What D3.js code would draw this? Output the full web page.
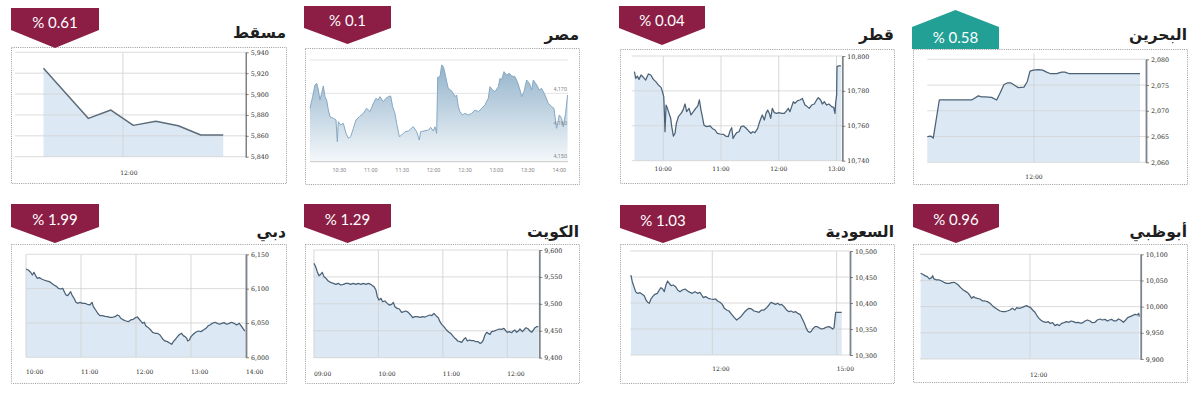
<!DOCTYPE html>
<html><head><meta charset="utf-8">
<script src="https://cdn.jsdelivr.net/npm/d3@7"></script>
<style>html,body{margin:0;padding:0;background:#fff;overflow:hidden} svg{display:block}</style>
</head><body>
<svg id="c" width="1200" height="399"></svg>
<script>
// ---------------- DATA ----------------
const marketNames = ["مسقط","مصر","قطر","البحرين","دبي","الكويت","السعودية","أبوظبي"];
const changeLabels = ["% 0.61","% 0.1","% 0.04","% 0.58","% 1.99","% 1.29","% 1.03","% 0.96"];
const changeDirection = ["down","down","down","up","down","down","down","down"];

// time in minutes after midnight, index value
const muscatSeries = [[667,5924.7],[697,5876.7],[712,5884.7],[727,5870.0],[742,5873.9],[757,5869.7],[772,5860.8],[787,5860.8]];
const egyptSeries = [[602.0,4165.5],[604.5,4169],[606.8,4172.5],[608.4,4173],[610.0,4171],[611.5,4168],[613.1,4170],[614.7,4172.2],[616.3,4169],[617.9,4168],[619.5,4165],[621.1,4163],[624.3,4162.5],[626.8,4162],[628.1,4155.5],[629.0,4161.5],[631.3,4160.5],[633.8,4161],[636.4,4158],[638.6,4156.5],[640.8,4157],[643.4,4159.5],[645.9,4162],[649.1,4163],[652.9,4164],[656.1,4165.5],[659.3,4164.5],[662.5,4167],[665.0,4168.5],[667.2,4168],[668.8,4169],[672.0,4167.5],[674.5,4168.5],[676.8,4169],[679.0,4169.2],[680.9,4166],[683.1,4164],[684.7,4161],[687.3,4157],[689.5,4157.5],[692.7,4158.5],[695.9,4158.7],[700.6,4160],[703.8,4158.5],[705.4,4157],[706.4,4156],[707.6,4158.5],[710.8,4158.7],[715.0,4159],[717.2,4159.8],[719.7,4158.7],[721.3,4160],[722.9,4158],[723.9,4174.8],[726.1,4175],[727.7,4178.5],[729.3,4178],[730.9,4176],[732.5,4173.5],[734.0,4171.5],[736.3,4171],[738.8,4170],[740.4,4169],[742.0,4169.5],[743.6,4166],[745.2,4164.5],[747.7,4163.5],[749.9,4164],[753.1,4163.5],[756.3,4164],[759.5,4165],[762.7,4164.5],[765.9,4165.5],[769.0,4166.5],[772.2,4168.5],[773.8,4172],[776.4,4171],[778.6,4170.5],[781.8,4172],[783.4,4174.5],[784.9,4174],[787.2,4176.5],[789.7,4175.5],[792.3,4176],[794.5,4175.2],[797.7,4175],[799.9,4173.5],[802.5,4171],[804.0,4169],[806.3,4170.5],[808.8,4174],[811.4,4173],[813.6,4171],[815.2,4174],[818.4,4172.5],[820.9,4171],[823.1,4171.5],[826.3,4169.5],[829.5,4167],[832.7,4166],[834.9,4165.5],[835.9,4163],[837.4,4159.5],[840.0,4163.5],[842.2,4162.5],[843.8,4160],[846.0,4164],[847.9,4169.5]];
const qatarSeries = [[570.0,10791.0],[571.4,10787.2],[573.1,10788.5],[574.8,10786.6],[576.9,10789.1],[579.3,10787.8],[581.8,10786.2],[584.5,10789.7],[587.0,10789.1],[589.7,10786.6],[592.2,10785.3],[594.9,10783.4],[597.7,10782.0],[599.1,10779.6],[600.5,10776.7],[601.2,10767.1],[601.8,10756.6],[602.9,10771.9],[604.3,10770.0],[606.0,10767.1],[607.7,10764.3],[608.8,10759.5],[610.5,10754.1],[612.2,10755.7],[613.6,10761.4],[615.7,10765.2],[618.5,10767.1],[620.5,10769.0],[622.6,10772.5],[624.3,10768.1],[626.8,10770.0],[628.8,10766.2],[631.3,10768.1],[633.7,10770.0],[635.8,10771.3],[637.5,10774.8],[639.2,10769.0],[640.6,10765.2],[642.3,10760.4],[645.1,10759.5],[648.6,10759.9],[651.0,10758.5],[653.8,10757.6],[656.2,10755.7],[659.0,10755.3],[662.4,10755.1],[664.8,10754.1],[667.6,10753.8],[669.3,10757.0],[671.1,10758.9],[672.5,10752.8],[674.5,10754.7],[676.3,10756.1],[678.7,10756.6],[680.8,10759.5],[683.2,10759.9],[685.6,10758.9],[688.4,10757.2],[691.1,10755.7],[692.9,10756.6],[695.3,10756.1],[698.1,10758.5],[699.8,10761.8],[701.5,10764.3],[702.9,10766.2],[705.0,10763.3],[706.7,10767.1],[708.5,10769.0],[710.2,10767.1],[711.6,10764.3],[713.3,10770.0],[715.4,10767.5],[717.8,10767.1],[720.2,10767.5],[723.0,10767.1],[725.8,10767.1],[728.2,10768.7],[729.9,10770.0],[731.6,10768.1],[733.4,10771.0],[735.1,10773.8],[736.8,10772.9],[739.6,10774.4],[742.0,10774.8],[744.5,10775.7],[747.2,10771.9],[749.6,10771.0],[751.7,10770.0],[754.1,10771.9],[756.9,10772.5],[759.3,10774.8],[761.1,10776.1],[763.5,10774.8],[765.2,10772.5],[767.3,10773.8],[769.7,10771.9],[772.1,10772.5],[774.9,10771.0],[777.0,10770.6],[778.4,10767.1],[779.1,10773.3],[780.1,10777.6],[780.5,10793.9],[781.8,10794.3],[784.6,10794.3]];
const bahrainSeries = [[570.0,2065.0],[574.7,2065.1],[578.4,2064.7],[586.9,2072.1],[590.1,2072.1],[632.3,2072.1],[637.0,2072.5],[641.7,2072.9],[646.4,2072.7],[651.1,2072.7],[660.5,2072.6],[667.5,2072.1],[672.2,2073.4],[677.8,2075.1],[682.5,2075.4],[687.7,2075.4],[693.3,2074.9],[698.0,2074.5],[705.9,2074.6],[710.6,2075.7],[714.4,2077.7],[719.1,2077.9],[726.1,2078.0],[732.2,2077.9],[737.8,2077.5],[743.4,2077.2],[751.9,2077.2],[758.9,2077.5],[763.6,2077.5],[769.7,2077.2],[812.8,2077.2],[869.1,2077.2]];
const dubaiSeries = [[600,6128.6],[602.5,6127.2],[605.1,6123.8],[606.9,6119.9],[608.7,6123.8],[610.5,6118.9],[612.4,6115.0],[614.5,6116.0],[617.1,6114.1],[619.6,6112.6],[622.5,6111.2],[625.5,6110.2],[628,6107.8],[630.5,6105.3],[633.5,6102.9],[635.3,6100.5],[637.8,6099.5],[640,6100.5],[641.8,6095.6],[643.6,6090.8],[645.5,6089.8],[647.3,6093.2],[648.7,6095.6],[650.2,6090.8],[652.4,6085.9],[654.5,6080.1],[656.4,6078.6],[658.9,6080.1],[661.8,6078.6],[664.4,6078.6],[666.9,6077.2],[669.8,6076.2],[672,6080.1],[673.5,6073.8],[676,6068.9],[678.2,6064.1],[680.7,6060.7],[683.6,6060.7],[686.2,6059.7],[688.7,6059.2],[691.6,6058.3],[694.5,6058.3],[697.1,6059.2],[699.6,6061.7],[701.8,6060.2],[703.3,6056.8],[706.2,6054.4],[709.1,6052.9],[711.6,6051.9],[714.2,6054.4],[717.1,6055.3],[719.6,6057.8],[721.5,6058.7],[723.3,6055.8],[725.1,6052.9],[727.3,6049.5],[729.1,6051.0],[730.5,6046.1],[733.5,6043.2],[736,6039.8],[738.2,6036.4],[740.7,6035.0],[743.3,6035.0],[746.2,6032.5],[749.1,6026.7],[751.6,6023.8],[754.2,6022.8],[757.1,6020.4],[758.9,6018.9],[760.7,6022.8],[763.3,6026.7],[766.2,6031.6],[768,6033.5],[769.8,6035.0],[771.6,6031.6],[773.5,6030.1],[775.3,6027.7],[776.4,6023.8],[778.2,6025.2],[780,6030.1],[782.5,6033.5],[785.1,6036.4],[788,6038.3],[790.9,6037.4],[793.5,6039.8],[796.4,6042.2],[798.9,6046.1],[800.7,6047.1],[803.3,6049.5],[806.2,6051.0],[808.7,6049.5],[810.9,6048.1],[813.5,6049.5],[816,6050.5],[818.9,6048.1],[821.8,6049.5],[824.4,6051.0],[826.9,6049.5],[829.8,6047.1],[832.7,6049.5],[835.3,6044.7],[837.8,6039.8],[838.9,6038.3]];
const kuwaitSeries = [[540.0,9575.2],[541.6,9569.0],[543.1,9559.8],[544.7,9552.3],[546.2,9554.8],[547.8,9558.5],[549.3,9550.5],[551.2,9547.4],[553.3,9542.4],[555.5,9539.9],[558.0,9538.1],[560.5,9536.2],[562.7,9538.1],[564.8,9535.0],[567.3,9536.2],[569.8,9538.1],[572.0,9538.1],[574.1,9536.2],[576.6,9538.1],[579.1,9536.2],[581.3,9538.1],[583.8,9536.2],[585.9,9538.1],[588.4,9536.2],[590.6,9538.1],[592.8,9536.2],[594.6,9533.7],[595.9,9531.9],[597.7,9525.7],[599.0,9513.3],[600.5,9507.1],[602.4,9510.2],[603.9,9504.0],[606.1,9505.3],[608.3,9500.9],[610.1,9497.8],[612.3,9499.1],[613.9,9502.8],[615.4,9494.7],[617.6,9491.6],[619.5,9490.4],[621.6,9484.2],[623.8,9485.4],[625.7,9486.7],[627.8,9484.2],[630.0,9479.3],[631.9,9474.3],[634.0,9476.2],[636.2,9476.2],[638.7,9474.9],[641.2,9476.2],[643.4,9475.5],[645.5,9477.4],[648.0,9479.3],[649.6,9478.0],[651.7,9482.4],[653.6,9478.0],[655.8,9474.3],[657.3,9466.9],[658.9,9461.9],[661.0,9457.6],[663.5,9451.4],[665.7,9447.1],[667.3,9445.2],[669.1,9440.9],[670.7,9437.2],[672.2,9434.7],[673.8,9431.0],[675.9,9429.7],[677.5,9428.5],[679.7,9434.7],[681.2,9437.2],[682.8,9431.0],[684.6,9432.8],[686.8,9431.6],[689.0,9431.6],[690.8,9429.7],[693.0,9429.7],[694.6,9426.6],[696.1,9427.9],[697.7,9432.8],[699.2,9442.1],[700.8,9447.1],[702.3,9445.2],[703.9,9443.3],[705.4,9448.3],[707.6,9449.5],[710.1,9451.4],[712.6,9453.3],[714.7,9452.6],[716.9,9454.5],[718.8,9449.5],[720.0,9447.1],[721.9,9448.3],[724.0,9446.4],[725.6,9449.5],[727.1,9451.4],[728.7,9447.1],[730.3,9449.5],[731.8,9453.3],[734.0,9448.3],[735.5,9451.4],[737.4,9455.7],[739.6,9453.3],[741.1,9449.5],[742.7,9447.1],[744.2,9451.4],[745.8,9455.7],[747.3,9457.6],[748.9,9457.6]];
const saudiSeries = [[602.2,10453.8],[604.2,10441.0],[606.6,10431.4],[609.0,10421.8],[611.4,10418.6],[615.3,10419.9],[618.6,10416.7],[621.5,10414.1],[624.0,10405.8],[626.4,10401.3],[628.8,10399.4],[631.2,10407.7],[633.6,10412.2],[637.0,10416.7],[640.4,10418.6],[643.3,10425.0],[645.7,10429.5],[648.1,10426.9],[650.5,10421.8],[652.9,10434.6],[655.3,10442.3],[657.7,10437.8],[660.2,10433.3],[663.5,10434.6],[666.9,10431.4],[669.8,10425.0],[673.2,10421.8],[676.6,10425.0],[680.4,10426.9],[684.3,10423.1],[687.7,10420.5],[691.0,10418.6],[694.9,10421.8],[698.8,10418.6],[702.1,10420.5],[704.6,10415.4],[707.0,10410.3],[710.3,10412.2],[714.2,10409.0],[718.1,10407.7],[721.4,10407.1],[724.8,10407.7],[727.7,10403.8],[731.1,10401.3],[734.5,10397.4],[737.4,10389.7],[740.8,10386.5],[744.1,10384.6],[748.0,10378.2],[751.9,10371.8],[755.2,10367.3],[758.6,10370.5],[762.5,10375.6],[766.3,10382.1],[769.7,10386.5],[773.1,10389.7],[776.9,10388.5],[780.3,10384.6],[784.2,10383.3],[787.6,10382.1],[791.4,10386.5],[794.8,10386.5],[798.7,10391.0],[802.0,10396.2],[804.9,10401.3],[808.3,10399.4],[811.7,10397.4],[814.6,10399.4],[818.0,10396.2],[820.4,10397.4],[823.8,10392.9],[827.6,10386.5],[831.0,10383.3],[833.9,10384.6],[837.3,10382.1],[840.7,10383.3],[843.6,10380.1],[846.9,10378.2],[850.3,10369.2],[853.2,10360.9],[855.6,10352.6],[858.0,10346.2],[860.4,10343.6],[862.9,10344.9],[865.3,10350.0],[868.6,10354.5],[872.0,10354.5],[875.9,10351.3],[878.3,10350.0],[881.7,10351.3],[885.5,10353.8],[888.9,10354.5],[891.8,10352.6],[894.2,10350.0],[896.2,10352.6],[897.6,10370.5],[898.6,10382.1],[902.4,10382.1],[907.3,10382.1]];
const abudhabiSeries = [[600.0,10063.7],[602.2,10061.8],[604.7,10059.2],[607.3,10057.3],[609.5,10052.9],[612.1,10055.4],[613.2,10059.2],[614.6,10052.9],[617.5,10051.0],[620.5,10051.0],[623.0,10049.0],[625.6,10046.5],[628.5,10044.6],[631.5,10044.6],[634.0,10045.9],[636.6,10046.5],[638.8,10044.6],[641.3,10041.4],[643.9,10036.3],[646.8,10031.8],[649.7,10028.7],[652.3,10025.5],[654.1,10021.0],[656.0,10015.9],[657.8,10019.1],[659.6,10017.2],[662.2,10015.9],[665.1,10014.6],[668.0,10010.8],[670.6,10010.8],[673.2,10009.6],[676.1,10006.4],[678.7,10001.9],[681.6,9998.1],[684.1,9994.9],[687.1,9991.7],[690.0,9990.4],[692.6,9990.4],[695.1,9991.7],[698.0,9993.6],[700.6,9996.8],[703.5,9993.6],[705.4,9998.1],[707.9,9996.8],[710.9,9998.1],[713.4,10000.0],[716.3,10001.9],[718.2,10000.0],[720.7,9998.1],[722.9,9993.6],[725.5,9989.2],[727.3,9984.1],[729.1,9979.0],[731.7,9974.5],[734.6,9971.3],[737.6,9970.1],[740.1,9971.3],[742.0,9968.2],[744.9,9969.4],[747.4,9963.7],[750.0,9966.2],[752.2,9963.7],[754.8,9968.2],[757.3,9969.4],[760.2,9971.3],[762.8,9970.1],[765.0,9972.6],[767.6,9971.3],[770.1,9969.4],[773.1,9970.1],[775.6,9968.2],[777.8,9969.4],[780.4,9972.6],[782.9,9974.5],[785.9,9972.6],[788.4,9969.4],[791.3,9970.1],[793.9,9974.5],[796.8,9976.4],[799.4,9974.5],[802.3,9975.8],[804.9,9972.6],[807.1,9974.5],[809.6,9975.8],[812.2,9972.6],[814.4,9972.6],[817.0,9976.4],[819.5,9974.5],[822.5,9970.1],[825.0,9974.5],[827.2,9979.0],[829.8,9980.9],[832.3,9982.8],[835.3,9985.4],[837.8,9984.1],[839.3,9987.3],[840.0,9980.9]];

const muscatYTicks = [5840,5860,5880,5900,5920,5940];
const egyptYTicks = [4150,4160,4170];
const egyptGridValues = [4170,4180];
const qatarYTicks = [10740,10760,10780,10800];
const bahrainYTicks = [2060,2065,2070,2075,2080];
const dubaiYTicks = [6000,6050,6100,6150];
const kuwaitYTicks = [9400,9450,9500,9550,9600];
const saudiYTicks = [10300,10350,10400,10450,10500];
const abudhabiYTicks = [9900,9950,10000,10050,10100];

const egyptYRange = [4149.5,4180.5];

const muscatTimeRange = [648,802];
const egyptTimeRange = [602,848.3];
const qatarTimeRange = [567.2,786];
const bahrainTimeRange = [570,877.5];
const dubaiTimeRange = [600,840];
const kuwaitTimeRange = [539.4,749.8];
const saudiTimeRange = [601.3,919.3];
const abudhabiTimeRange = [599.3,841.5];

const muscatXTicks = [720];
const egyptXTicks = [630,660,690,720,750,780,810,840];
const qatarXTicks = [600,660,720,780];
const bahrainXTicks = [720];
const dubaiXTicks = [600,660,720,780,840];
const kuwaitXTicks = [540,600,660,720];
const saudiXTicks = [720,900];
const abudhabiXTicks = [720];

// ---------------- LAYOUT (positions / styles) ----------------
const layouts = [
 {box:[11,47,286,183], plot:[15,245.7,52.3,156.7], xLab:{y:175,anchor:"middle",dx:6}, title:[286,38], badge:[11,99,8,30,48], axisW:1.1, axisC:"#555", lineW:1.5, lineC:"#5d6c7a"},
 {box:[305,48,579,184], plot:[310,568,58.3,161.7], xLab:{y:172,anchor:"middle",dx:0}, title:[579,40], badge:[304,391,6,28,44], egypt:true},
 {box:[620,49,894,183], plot:[631.7,842.3,56,160.7], xLab:{y:170.5,anchor:"middle",dx:0}, title:[894,40], badge:[619,705,6,28,45]},
 {box:[913,49,1187,184], plot:[927.3,1146,59.3,162.3], xLab:{y:179,anchor:"middle",dx:0}, title:[1187,40], badge:[912,999,10,27,49], vTop:53},
 {box:[11,244,286,383], plot:[26,246,254.3,357.3], xLab:{y:374,anchor:"start",dx:0}, title:[286,237], badge:[11,99,204,227,243]},
 {box:[305,244,579,383], plot:[313.3,539.3,250,357.7], xLab:{y:375.5,anchor:"start",dx:0}, title:[579,237], badge:[304,391,204,227,243]},
 {box:[620,244,894,383], plot:[630.3,850,251,355], xLab:{y:371,anchor:"start",dx:0}, title:[894,237], badge:[620,706,205,228,243]},
 {box:[913,244,1187,382], plot:[920,1140.7,254.3,359], xLab:{y:377,anchor:"start",dx:0}, title:[1187,237], badge:[913,999,204,227,243]}
];

const panelData = [
 {series:muscatSeries, yTicks:muscatYTicks, yDomain:[5840,5940], tDomain:muscatTimeRange, xTicks:muscatXTicks},
 {series:egyptSeries, yTicks:egyptYTicks, yDomain:egyptYRange, tDomain:egyptTimeRange, xTicks:egyptXTicks, grid:egyptGridValues},
 {series:qatarSeries, yTicks:qatarYTicks, yDomain:[10740,10800], tDomain:qatarTimeRange, xTicks:qatarXTicks},
 {series:bahrainSeries, yTicks:bahrainYTicks, yDomain:[2060,2080], tDomain:bahrainTimeRange, xTicks:bahrainXTicks},
 {series:dubaiSeries, yTicks:dubaiYTicks, yDomain:[6000,6150], tDomain:dubaiTimeRange, xTicks:dubaiXTicks},
 {series:kuwaitSeries, yTicks:kuwaitYTicks, yDomain:[9400,9600], tDomain:kuwaitTimeRange, xTicks:kuwaitXTicks},
 {series:saudiSeries, yTicks:saudiYTicks, yDomain:[10300,10500], tDomain:saudiTimeRange, xTicks:saudiXTicks},
 {series:abudhabiSeries, yTicks:abudhabiYTicks, yDomain:[9900,10100], tDomain:abudhabiTimeRange, xTicks:abudhabiXTicks}
];

const svg = d3.select("#c");
const defs = svg.append("defs");
const grad = defs.append("linearGradient").attr("id","egyptGrad").attr("x1",0).attr("y1",0).attr("x2",0).attr("y2",1);
grad.append("stop").attr("offset","0%").attr("stop-color","#93b3cb");
grad.append("stop").attr("offset","100%").attr("stop-color","#f4f8fb");

const fmtTime = m => { const h = Math.floor(m/60), mm = Math.round(m%60); return String(h).padStart(2,"0")+":"+String(mm).padStart(2,"0"); };
const fmtNum = d3.format(",");

layouts.forEach((L,i) => {
  const D = panelData[i];
  const g = svg.append("g");
  const [bx0,by0,bx1,by1] = L.box;
  const [pl,pr,pt,pb] = L.plot;

  g.append("rect").attr("x",bx0+0.5).attr("y",by0+0.5).attr("width",bx1-bx0).attr("height",by1-by0)
    .attr("fill","#fff").attr("stroke","#9a9a9a").attr("stroke-width",1).attr("stroke-dasharray","1,1.2");

  const x = d3.scaleLinear().domain(D.tDomain).range([pl,pr]);
  const y = d3.scaleLinear().domain(D.yDomain).range([pb,pt]);

  if (L.egypt) {
    g.selectAll(".hg").data(D.grid).join("line")
      .attr("x1",pl).attr("x2",pr).attr("y1",d=>y(d)).attr("y2",d=>y(d))
      .attr("stroke","#e3e3e3").attr("stroke-width",1);
    const area = d3.area().x(d=>x(d[0])).y0(y(D.yDomain[0])).y1(d=>y(d[1]));
    g.append("path").datum(D.series).attr("d",area).attr("fill","url(#egyptGrad)");
    g.append("path").datum(D.series).attr("d",d3.line().x(d=>x(d[0])).y(d=>y(d[1])))
      .attr("fill","none").attr("stroke","#86a8c4").attr("stroke-width",1);
    g.append("line").attr("x1",pl).attr("x2",pr).attr("y1",pb).attr("y2",pb).attr("stroke","#c9c9c9").attr("stroke-width",1);
    g.selectAll(".yl").data(D.yTicks).join("text")
      .attr("x",pr-1).attr("y",d=>y(d)-2).attr("text-anchor","end")
      .attr("font-family","Roboto, sans-serif").attr("font-size",5.5).attr("fill","#8a8a8a").text(d=>fmtNum(d));
    g.selectAll(".xl").data(D.xTicks).join("text")
      .attr("x",d=>x(d)).attr("y",L.xLab.y).attr("text-anchor","middle")
      .attr("font-family","Roboto, sans-serif").attr("font-size",5.5).attr("fill","#8a8a8a").text(d=>fmtTime(d));
  } else {
    const area = d3.area().x(d=>x(d[0])).y0(y(D.yDomain[0])).y1(d=>y(d[1]));
    g.append("path").datum(D.series).attr("d",area).attr("fill","#dce9f5");
    g.selectAll(".hg").data(D.yTicks).join("line")
      .attr("x1",pl).attr("x2",pr).attr("y1",d=>y(d)).attr("y2",d=>y(d))
      .attr("stroke","#d3d3d3").attr("stroke-opacity",0.9).attr("stroke-width",0.9);
    g.selectAll(".vg").data(D.xTicks).join("line")
      .attr("x1",d=>x(d)).attr("x2",d=>x(d)).attr("y1",L.vTop||pt).attr("y2",pb)
      .attr("stroke","#d3d3d3").attr("stroke-width",0.9);
    g.append("path").datum(D.series).attr("d",d3.line().x(d=>x(d[0])).y(d=>y(d[1])))
      .attr("fill","none").attr("stroke",L.lineC||"#4b6176").attr("stroke-width",L.lineW||1.25).attr("stroke-linejoin","round");
    const ax = g.append("g").attr("transform",`translate(${pr},0)`)
      .call(d3.axisRight(y).tickValues(D.yTicks).tickSize(3).tickSizeOuter(0).tickPadding(2).tickFormat(fmtNum));
    ax.select(".domain").attr("stroke",L.axisC||"#7d858c").attr("stroke-width",L.axisW||1.8);
    ax.selectAll(".tick line").attr("stroke","#666").attr("stroke-width",0.8);
    ax.selectAll(".tick text").attr("font-family","'DejaVu Serif', serif").attr("font-size",6.3).attr("fill","#2a2a2a");
    g.selectAll(".xl").data(D.xTicks).join("text")
      .attr("x",d=>x(d)+L.xLab.dx).attr("y",L.xLab.y).attr("text-anchor",L.xLab.anchor)
      .attr("font-family","'DejaVu Serif', serif").attr("font-size",6).attr("fill","#2a2a2a").text(d=>fmtTime(d));
  }

  // title
  g.append("text").attr("x",L.title[0]).attr("y",L.title[1]).attr("text-anchor","end")
    .attr("font-family","'DejaVu Sans', sans-serif").attr("font-weight","bold").attr("font-size",15.5)
    .attr("fill","#1e1e1e").text(marketNames[i]);

  // badge
  const [x0,x1,a,b,c] = L.badge;
  const mid = (x0+x1)/2;
  let pts, ty, col;
  if (changeDirection[i]==="down") {
    pts = [[x0,a],[x1,a],[x1,b],[mid,c],[x0,b]]; ty = b-2; col = "#8c1d44";
  } else {
    pts = [[mid,a],[x1,b],[x1,c],[x0,c],[x0,b]]; ty = c-6.5; col = "#22a095";
  }
  g.append("polygon").attr("points",pts.map(p=>p.join(",")).join(" ")).attr("fill",col);
  g.append("text").attr("x",mid).attr("y",ty).attr("text-anchor","middle")
    .attr("font-family","Lato, sans-serif").attr("font-size",15).attr("fill","#fff").text(changeLabels[i]);
});
</script></body></html>
